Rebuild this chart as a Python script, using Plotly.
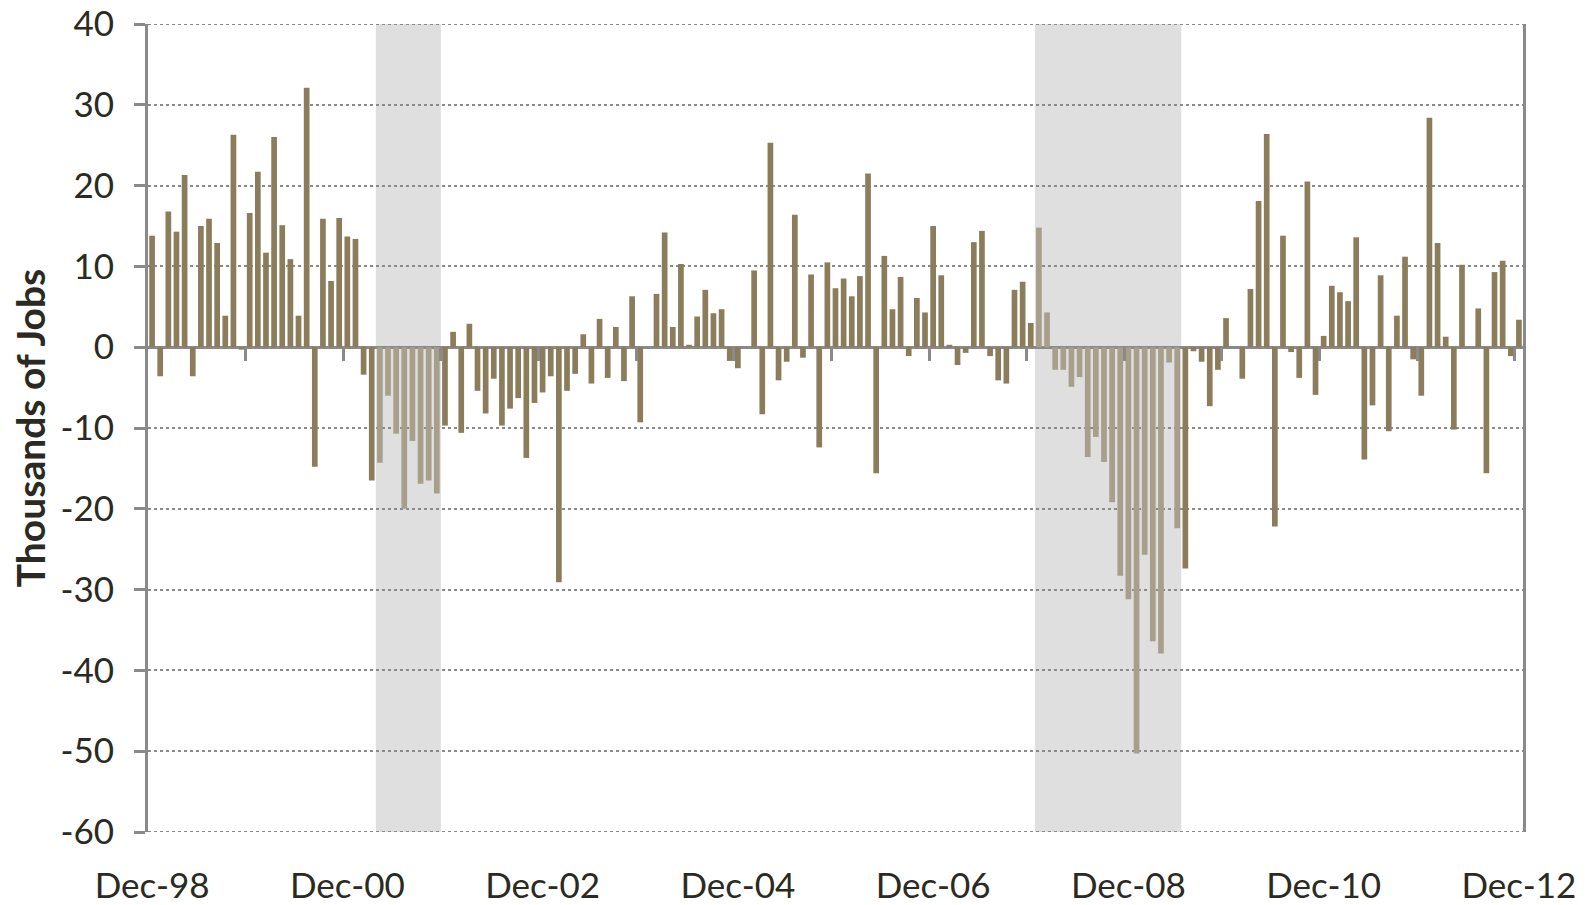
import pandas as pd
import plotly.graph_objects as go

# Monthly change in jobs (thousands), Dec-98 .. Dec-12
months = pd.date_range("1998-12-01", "2012-12-01", freq="MS").strftime("%b-%y").tolist()

values = [
    13.8, -3.6, 16.8, 14.3, 21.3, -3.6, 15.0, 15.9, 12.9, 3.9, 26.3, -0.3,
    16.6, 21.7, 11.7, 26.0, 15.1, 10.9, 3.9, 32.1, -14.8, 15.9, 8.2, 16.0,
    13.7, 13.4, -3.4, -16.5, -14.3, -6.0, -10.7, -20.0, -11.6, -16.9, -16.5, -18.1,
    -9.7, 1.9, -10.6, 2.9, -5.4, -8.2, -3.9, -9.7, -7.6, -6.3, -13.7, -6.9,
    -5.6, -3.6, -29.1, -5.4, -3.3, 1.6, -4.5, 3.5, -3.8, 2.5, -4.2, 6.3,
    -9.3, 0.0, 6.6, 14.2, 2.5, 10.3, 0.3, 3.8, 7.1, 4.2, 4.7, -1.7,
    -2.6, 0.0, 9.5, -8.3, 25.3, -4.1, -1.8, 16.4, -1.3, 9.0, -12.4, 10.5,
    7.3, 8.5, 6.3, 8.8, 21.5, -15.6, 11.3, 4.7, 8.7, -1.1, 6.1, 4.3,
    15.0, 8.9, 0.3, -2.2, -0.7, 13.0, 14.4, -1.1, -4.1, -4.5, 7.1, 8.1,
    3.0, 14.8, 4.3, -2.8, -2.8, -4.9, -3.7, -13.6, -11.1, -14.2, -19.2, -28.3,
    -31.2, -50.3, -25.7, -36.4, -37.9, -1.9, -22.4, -27.4, -0.5, -1.8, -7.3, -2.8,
    3.6, 0.0, -3.9, 7.2, 18.1, 26.4, -22.2, 13.8, -0.6, -3.8, 20.5, -5.9,
    1.4, 7.6, 6.8, 5.7, 13.6, -13.9, -7.2, 8.9, -10.4, 3.9, 11.2, -1.5,
    -6.0, 28.4, 12.9, 1.3, -10.2, 10.2, 0.0, 4.8, -15.6, 9.3, 10.7, -1.1,
    3.4,
]

recessions = [("Apr-01", "Nov-01"), ("Jan-08", "Jun-09")]
tick_labels = ["Dec-98", "Dec-00", "Dec-02", "Dec-04", "Dec-06", "Dec-08", "Dec-10", "Dec-12"]
y_ticks = [40, 30, 20, 10, 0, -10, -20, -30, -40, -50, -60]

BAR = "#8b7d5b"
BAR_LIGHT = "#a79f8b"
SHADE = "#dfdfdf"
AXIS = "#8a8a8a"
GRID = "#8a8a8a"
TEXT = "#2b2a22"
FONT = "Lato, Carlito, Calibri, sans-serif"

rec_idx = [(months.index(a), months.index(b)) for a, b in recessions]
colors = [BAR_LIGHT if any(a <= i <= b for a, b in rec_idx) else BAR for i in range(len(months))]

fig = go.Figure()
fig.add_trace(go.Bar(
    x=months, y=values, marker=dict(color=colors, line=dict(width=0)),
    showlegend=False,
))

for a, b in rec_idx:
    fig.add_shape(type="rect", xref="x", yref="paper", x0=a - 0.5, x1=b + 0.5,
                  y0=0, y1=1, fillcolor=SHADE, line=dict(width=0), layer="below")

y_min, y_max = min(y_ticks), max(y_ticks)

# dotted gridlines at the two ends of the value axis (plot frame top/bottom)
for yv in (y_min, y_max):
    fig.add_shape(type="line", xref="paper", yref="y", x0=0, x1=1, y0=yv, y1=yv,
                  line=dict(color=GRID, width=2, dash="dot"), layer="above")

# year-boundary tick marks on the zero line
dec_idx = [i - 0.5 for i, m in enumerate(months) if m.startswith("Dec") and i > 0]

fig.update_layout(
    width=1585, height=905,
    margin=dict(l=148, r=62, t=24, b=73, autoexpand=False),
    paper_bgcolor="white", plot_bgcolor="white",
    bargap=0.3,
    font=dict(family=FONT, color=TEXT, size=35),
    xaxis=dict(
        type="category", categoryorder="array", categoryarray=months,
        range=[-0.5, len(months) - 0.5], automargin=False,
        tickmode="array", tickvals=tick_labels, ticktext=tick_labels,
        ticks="", showline=False, showgrid=False, zeroline=False,
        tickfont=dict(size=35, color=TEXT), ticklabelstandoff=30,
        ticklabeloverflow="allow",
    ),
    xaxis2=dict(
        overlaying="x", anchor="free", position=(0 - y_min) / (y_max - y_min), side="bottom",
        type="linear", range=[-0.5, len(months) - 0.5], automargin=False,
        tickmode="array", tickvals=dec_idx, showticklabels=False,
        ticks="outside", ticklen=13, tickwidth=2.7, tickcolor=AXIS,
        showline=False, showgrid=False, zeroline=False,
    ),
    yaxis=dict(
        range=[y_min, y_max], tickmode="array", tickvals=y_ticks,
        ticktext=[str(v) for v in y_ticks], automargin=False,
        ticks="outside", ticklen=11, tickwidth=2.7, tickcolor=AXIS,
        showline=True, linecolor=AXIS, linewidth=2.7, mirror=True,
        showgrid=True, gridcolor=GRID, griddash="dot", gridwidth=2,
        zeroline=True, zerolinecolor=AXIS, zerolinewidth=2.7,
        tickfont=dict(size=35, color=TEXT), ticklabelstandoff=13,
        ticklabeloverflow="allow",
        title=dict(text="<b>Thousands of Jobs</b>", font=dict(size=39, color=TEXT), standoff=3),
    ),
)

# invisible anchor trace so the overlay axis renders
fig.add_trace(go.Scatter(x=[0], y=[0], xaxis="x2", mode="markers",
                         marker=dict(opacity=0), hoverinfo="skip", showlegend=False))

fig.write_html("out.html", config={"displayModeBar": False},
               post_script="document.body.style.margin='0';")
